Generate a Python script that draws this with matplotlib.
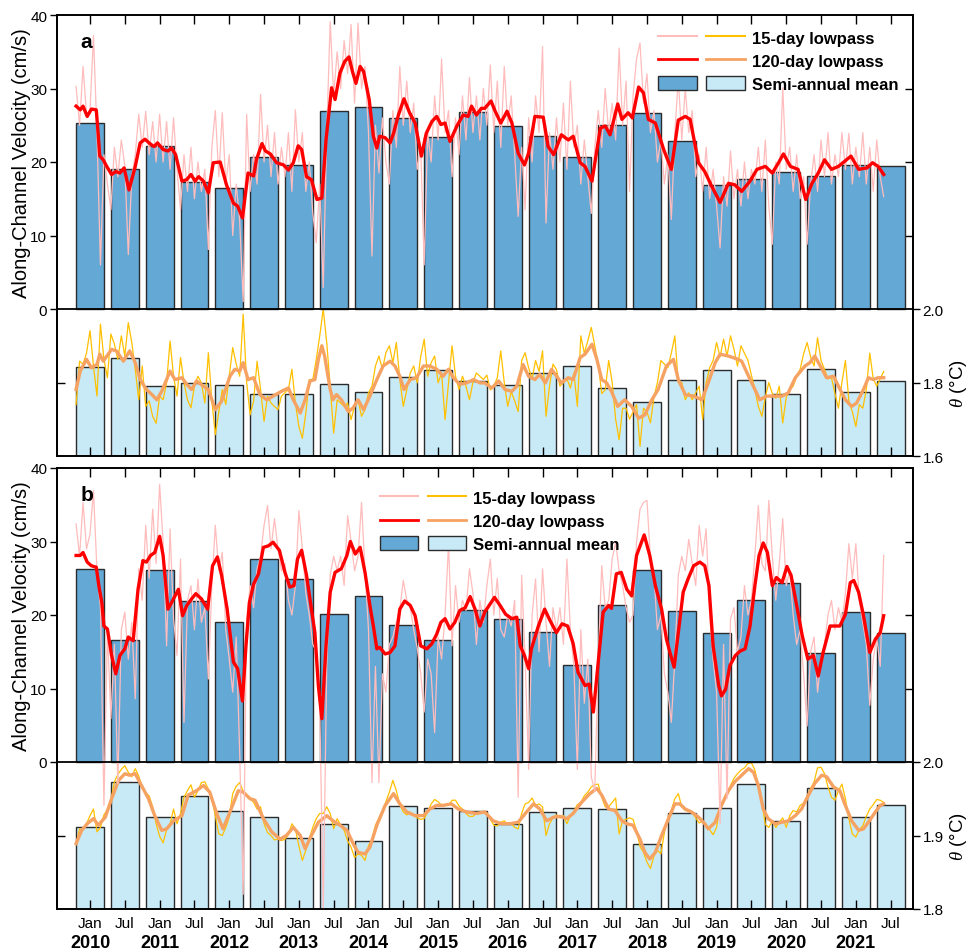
import numpy as np
import matplotlib
matplotlib.use("Agg")
import matplotlib.pyplot as plt
import matplotlib.transforms as mtransforms
from matplotlib.lines import Line2D
from matplotlib.patches import Patch
from matplotlib.legend_handler import HandlerTuple

plt.rcParams['font.family'] = ['Liberation Sans', 'DejaVu Sans']
plt.rcParams['mathtext.fontset'] = 'custom'
plt.rcParams['mathtext.it'] = 'Liberation Serif:italic'
plt.rcParams['mathtext.rm'] = 'Liberation Sans'

# semester centres (Jan / Jul of each year)
semesters = np.arange(2010.0, 2022.0, 0.5)
sem_labels = ['Jan', 'Jul'] * 12
years = list(range(2010, 2022))

# semi-annual means
vel_a_mean = [25.3, 19.0, 22.2, 17.3, 16.4, 20.7, 19.6, 27.0, 27.5, 26.0, 23.4, 26.8,
              24.9, 23.6, 20.7, 25.1, 26.6, 22.8, 16.9, 17.7, 18.7, 18.1, 19.6, 19.5]
temp_a_mean = [1.843, 1.867, 1.790, 1.799, 1.794, 1.768, 1.769, 1.795, 1.773, 1.816, 1.833, 1.804,
               1.794, 1.826, 1.845, 1.784, 1.747, 1.806, 1.834, 1.808, 1.770, 1.837, 1.775, 1.805]
vel_b_mean = [26.3, 16.6, 26.1, 21.9, 19.0, 27.6, 24.9, 20.2, 22.6, 18.6, 16.6, 20.7,
              19.5, 17.7, 13.2, 21.3, 26.1, 20.5, 17.6, 22.1, 24.4, 14.8, 20.4, 17.6]
temp_b_mean = [1.911, 1.973, 1.925, 1.954, 1.934, 1.925, 1.896, 1.915, 1.892, 1.940, 1.937, 1.933,
               1.916, 1.932, 1.937, 1.936, 1.889, 1.930, 1.938, 1.970, 1.920, 1.965, 1.925, 1.941]

# 15-day lowpass series, sampled every 0.05 yr from 2009.80
t15_start, t15_step = 2009.80, 0.05
vel_a_15d = [
    30.3, 25.0, 33.0, 26.5,
    27.0, 37.2, 24.0, 6.0, 21.0, 17.0, 13.5, 22.0, 18.0, 23.0, 19.5, 7.4, 18.0, 21.0, 26.5, 22.0, 26.9, 21.0, 25.5, 20.0,
    26.5, 20.0, 25.5, 19.0, 26.0, 19.0, 13.5, 21.0, 16.0, 22.0, 15.0, 20.0, 16.0, 19.0, 8.1, 22.0, 27.0, 18.0, 26.7, 17.0,
    21.0, 10.0, 17.0, 12.0, 1.0, 26.5, 16.0, 21.0, 17.0, 29.2, 20.0, 25.0, 18.0, 24.0, 17.0, 22.0, 18.0, 24.0, 16.0, 27.1,
    20.0, 24.0, 16.0, 20.0, 13.0, 9.0, 17.0, 2.9, 24.0, 39.1, 29.0, 35.0, 30.0, 36.5, 32.0, 38.7, 28.0, 38.9, 30.0, 33.0,
    24.0, 7.2, 25.0, 18.5, 26.0, 20.0, 17.0, 27.0, 22.0, 33.0, 25.0, 31.0, 24.0, 28.0, 19.0, 22.0, 6.0, 24.0, 20.0, 29.0,
    23.0, 34.0, 24.0, 27.0, 18.0, 26.0, 21.0, 29.0, 23.0, 31.5, 24.0, 29.0, 23.0, 30.0, 25.0, 33.2, 24.0, 31.0, 22.0, 33.0,
    25.0, 29.0, 21.0, 12.6, 22.0, 13.5, 26.0, 20.0, 29.0, 24.0, 35.7, 11.7, 24.0, 19.0, 26.0, 20.0, 28.0, 19.0, 31.0, 22.0,
    25.0, 17.0, 23.0, 18.0, 13.0, 22.0, 27.0, 22.0, 30.0, 24.0, 28.0, 23.0, 35.5, 25.0, 31.0, 16.0, 29.0, 34.0, 36.2, 28.0,
    32.0, 24.0, 27.0, 20.0, 23.0, 17.0, 21.0, 12.2, 24.0, 31.4, 23.0, 30.0, 24.0, 27.0, 18.0, 21.0, 16.0, 22.0, 15.0, 19.0,
    14.0, 8.3, 18.0, 14.0, 21.5, 15.0, 19.0, 14.0, 20.0, 15.0, 19.0, 17.0, 22.0, 16.0, 23.0, 14.0, 8.8, 20.0, 17.0, 30.1,
    19.0, 22.0, 16.0, 21.0, 15.0, 18.0, 8.8, 17.0, 21.0, 16.0, 23.0, 18.0, 24.0, 17.0, 21.0, 18.0, 24.0, 19.0, 23.9, 17.0,
    22.0, 18.0, 24.0, 17.0, 22.0, 16.0, 23.0, 18.0, 15.3,
]
temp_a_15d = [
    1.740, 1.858, 1.850, 1.880,
    1.941, 1.845, 1.763, 1.959, 1.863, 1.813, 1.932, 1.905, 1.863, 1.927, 1.872, 1.963, 1.909, 1.836, 1.753, 1.845, 1.735, 1.750, 1.708, 1.689,
    1.763, 1.753, 1.799, 1.913, 1.817, 1.763, 1.868, 1.800, 1.753, 1.731, 1.790, 1.817, 1.799, 1.744, 1.881, 1.750, 1.658, 1.720, 1.781, 1.740,
    1.817, 1.895, 1.850, 1.817, 1.986, 1.800, 1.712, 1.750, 1.858, 1.781, 1.694, 1.763, 1.744, 1.735, 1.726, 1.763, 1.772, 1.781, 1.836, 1.744,
    1.680, 1.648, 1.717, 1.808, 1.808, 1.863, 1.927, 2.000, 1.909, 1.790, 1.662, 1.753, 1.744, 1.735, 1.744, 1.699, 1.735, 1.753, 1.708, 1.726,
    1.772, 1.790, 1.845, 1.872, 1.836, 1.881, 1.900, 1.854, 1.909, 1.808, 1.735, 1.781, 1.826, 1.845, 1.799, 1.870, 1.918, 1.817, 1.854, 1.872,
    1.799, 1.826, 1.699, 1.800, 1.900, 1.817, 1.781, 1.817, 1.790, 1.753, 1.800, 1.826, 1.817, 1.808, 1.820, 1.780, 1.790, 1.813, 1.886, 1.800,
    1.735, 1.775, 1.750, 1.721, 1.860, 1.881, 1.840, 1.810, 1.860, 1.830, 1.886, 1.708, 1.790, 1.850, 1.835, 1.790, 1.800, 1.810, 1.785, 1.826,
    1.735, 1.927, 1.880, 1.913, 1.950, 1.900, 1.850, 1.770, 1.780, 1.860, 1.800, 1.700, 1.644, 1.730, 1.730, 1.700, 1.720, 1.740, 1.626, 1.730,
    1.720, 1.690, 1.760, 1.800, 1.860, 1.850, 1.840, 1.880, 1.927, 1.800, 1.800, 1.753, 1.772, 1.753, 1.772, 1.790, 1.699, 1.800, 1.840, 1.860,
    1.909, 1.870, 1.918, 1.872, 1.927, 1.890, 1.845, 1.900, 1.880, 1.860, 1.820, 1.780, 1.735, 1.708, 1.760, 1.800, 1.770, 1.757, 1.790, 1.690,
    1.760, 1.781, 1.790, 1.817, 1.836, 1.878, 1.909, 1.870, 1.845, 1.922, 1.860, 1.836, 1.810, 1.813, 1.770, 1.730, 1.800, 1.860, 1.750, 1.720,
    1.680, 1.740, 1.730, 1.780, 1.880, 1.810, 1.790, 1.810, 1.830,
]
vel_b_15d = [
    32.4, 28.0, 35.3, 29.0,
    31.0, 36.9, 26.0, 21.0, -5.9, 18.0, 5.9, 16.0, -3.0, 18.0, 20.4, 14.0, 19.0, 8.6, 26.3, 22.0, 32.2, 25.0, 34.4, 27.0,
    37.8, 29.9, 15.8, 31.7, 19.5, 14.5, 27.6, 5.4, 22.0, 24.0, 18.0, 24.9, 19.0, 21.0, 11.3, 24.0, 32.2, 26.0, 28.5, 18.0,
    14.0, 9.5, 17.0, 1.3, -18.0, 19.5, 24.0, 21.0, 26.3, 28.0, 32.2, 34.9, 29.0, 33.1, 29.0, 26.0, 27.0, 22.0, 20.0, 24.0,
    34.2, 29.0, 23.0, 20.0, 16.0, 15.0, 7.7, -20.0, 13.1, 25.4, 28.0, 26.0, 28.0, 24.0, 33.5, 30.0, 26.0, 28.0, 35.3, 26.0,
    18.0, -2.8, 13.0, -2.8, 12.0, 9.5, 16.0, 17.0, 19.0, 20.8, 24.7, 22.0, 21.0, 18.0, 15.5, 12.0, 6.8, 14.0, 12.0, 4.0,
    17.0, 14.0, 20.0, 29.7, 15.8, 24.0, 19.0, 22.0, 20.6, 26.3, 23.0, 16.0, 22.0, 19.0, 24.0, 27.6, 20.0, 25.0, 18.0, 17.0,
    20.0, 18.5, 22.0, -4.8, 25.4, 14.0, -1.0, 20.0, 24.9, 15.0, 26.3, 19.0, 13.0, 21.0, 18.0, 21.0, 16.0, 27.6, 18.0, 13.0,
    -1.0, 18.0, 8.0, 14.0, -2.0, -4.0, 14.0, 26.7, 21.0, 22.0, 27.6, 29.9, 26.0, 24.0, 21.0, 19.0, 20.0, 29.9, 34.4, 35.3,
    35.6, 27.6, 25.4, 18.0, 20.0, 12.0, 9.5, 5.4, 14.0, 25.4, 28.0, 26.0, 30.3, 27.0, 24.0, 32.2, 28.0, 31.7, 20.0, 14.0,
    9.5, -8.4, 16.0, -5.0, 19.5, 21.0, 15.0, 17.0, 24.0, 20.0, 22.0, 28.1, 34.9, 27.0, 26.0, 35.6, 28.0, 22.0, 27.0, 33.1,
    24.0, 26.0, 20.0, 16.0, 18.0, 12.0, 4.9, 15.0, 17.0, 9.5, 14.0, 16.0, 20.0, 22.0, 18.0, 21.0, 19.0, 23.0, 29.7, 25.0,
    29.7, 22.0, 19.0, 16.0, 7.7, 14.0, 17.0, 13.0, 28.1,
]
temp_b_15d = [
    1.889, 1.909, 1.908, 1.916,
    1.927, 1.936, 1.905, 1.911, 1.928, 1.935, 1.948, 1.973, 1.983, 1.990, 1.995, 1.986, 1.980, 1.991, 1.981, 1.964, 1.958, 1.954, 1.939, 1.916,
    1.899, 1.890, 1.908, 1.916, 1.936, 1.916, 1.930, 1.952, 1.961, 1.969, 1.952, 1.961, 1.972, 1.973, 1.963, 1.950, 1.927, 1.902, 1.900, 1.911,
    1.925, 1.957, 1.967, 1.972, 1.960, 1.955, 1.950, 1.945, 1.936, 1.939, 1.916, 1.904, 1.900, 1.894, 1.895, 1.893, 1.895, 1.901, 1.916, 1.909,
    1.886, 1.866, 1.880, 1.896, 1.911, 1.923, 1.930, 1.930, 1.939, 1.930, 1.909, 1.923, 1.914, 1.907, 1.893, 1.884, 1.870, 1.875, 1.873, 1.866,
    1.886, 1.895, 1.914, 1.924, 1.933, 1.946, 1.959, 1.975, 1.961, 1.942, 1.932, 1.928, 1.932, 1.927, 1.924, 1.922, 1.923, 1.932, 1.943, 1.949,
    1.946, 1.941, 1.941, 1.941, 1.948, 1.948, 1.940, 1.936, 1.930, 1.926, 1.926, 1.930, 1.931, 1.932, 1.931, 1.922, 1.914, 1.913, 1.918, 1.920,
    1.915, 1.916, 1.911, 1.909, 1.930, 1.943, 1.945, 1.951, 1.941, 1.943, 1.939, 1.900, 1.916, 1.924, 1.928, 1.924, 1.927, 1.916, 1.927, 1.933,
    1.942, 1.945, 1.954, 1.959, 1.966, 1.969, 1.970, 1.952, 1.939, 1.939, 1.945, 1.951, 1.902, 1.920, 1.922, 1.924, 1.922, 1.907, 1.885, 1.877,
    1.864, 1.855, 1.872, 1.880, 1.875, 1.904, 1.925, 1.934, 1.950, 1.957, 1.939, 1.934, 1.933, 1.931, 1.924, 1.917, 1.920, 1.914, 1.908, 1.901,
    1.911, 1.941, 1.949, 1.955, 1.968, 1.978, 1.984, 1.989, 1.992, 1.998, 1.999, 1.989, 1.968, 1.945, 1.915, 1.911, 1.920, 1.911, 1.918, 1.924,
    1.911, 1.927, 1.934, 1.932, 1.941, 1.944, 1.954, 1.964, 1.973, 1.992, 1.993, 1.984, 1.966, 1.952, 1.948, 1.961, 1.970, 1.950, 1.923, 1.902,
    1.898, 1.908, 1.913, 1.926, 1.936, 1.942, 1.949, 1.948, 1.945,
]

# 120-day lowpass series, (decimal year, value)
vel_a_120d = [
    (2009.80, 27.6), (2009.86, 27.1), (2009.90, 27.6), (2009.96, 26.2), (2010.02, 27.2), (2010.09, 27.1),
    (2010.12, 23.5), (2010.14, 20.8), (2010.19, 20.3), (2010.24, 19.4), (2010.31, 18.3), (2010.37, 18.7),
    (2010.43, 18.5), (2010.49, 19.2), (2010.56, 16.2), (2010.65, 19.4), (2010.72, 22.6), (2010.79, 23.1),
    (2010.86, 22.5), (2010.92, 22.1), (2010.97, 22.6), (2011.05, 21.7), (2011.12, 21.5), (2011.17, 21.9),
    (2011.23, 21.0), (2011.32, 17.4), (2011.39, 17.6), (2011.45, 18.3), (2011.51, 17.4), (2011.56, 18.0),
    (2011.63, 17.4), (2011.70, 15.8), (2011.77, 19.9), (2011.87, 20.0), (2011.96, 16.9), (2012.06, 14.4),
    (2012.12, 14.0), (2012.19, 12.4), (2012.27, 18.5), (2012.35, 18.1), (2012.39, 20.3), (2012.47, 22.5),
    (2012.52, 21.5), (2012.59, 21.1), (2012.68, 19.9), (2012.78, 19.6), (2012.85, 18.9), (2012.92, 19.9),
    (2012.99, 22.2), (2013.04, 21.7), (2013.11, 18.0), (2013.18, 17.6), (2013.26, 14.9), (2013.33, 15.1),
    (2013.39, 23.0), (2013.47, 30.1), (2013.52, 28.5), (2013.59, 32.1), (2013.66, 33.7), (2013.72, 34.3),
    (2013.77, 32.3), (2013.82, 30.7), (2013.88, 33.0), (2013.93, 32.3), (2014.01, 28.5), (2014.07, 23.5),
    (2014.12, 21.9), (2014.16, 23.5), (2014.24, 23.3), (2014.31, 22.6), (2014.36, 23.9), (2014.43, 26.4),
    (2014.51, 28.6), (2014.59, 26.7), (2014.67, 25.3), (2014.76, 20.8), (2014.83, 23.9), (2014.91, 25.5),
    (2014.98, 26.2), (2015.04, 25.1), (2015.10, 25.3), (2015.17, 22.8), (2015.27, 24.9), (2015.36, 26.4),
    (2015.43, 26.2), (2015.48, 27.6), (2015.55, 26.4), (2015.62, 27.3), (2015.67, 27.3), (2015.76, 28.3),
    (2015.82, 26.9), (2015.90, 25.3), (2015.99, 26.9), (2016.06, 25.3), (2016.15, 21.2), (2016.24, 19.6),
    (2016.30, 21.2), (2016.39, 26.2), (2016.51, 26.1), (2016.58, 22.1), (2016.66, 21.0), (2016.77, 23.7),
    (2016.87, 23.0), (2016.94, 23.5), (2017.04, 19.9), (2017.11, 19.4), (2017.21, 17.4), (2017.33, 24.6),
    (2017.40, 24.9), (2017.47, 23.7), (2017.58, 27.9), (2017.64, 25.8), (2017.73, 26.7), (2017.79, 26.0),
    (2017.88, 30.2), (2017.95, 29.4), (2018.02, 25.8), (2018.12, 25.3), (2018.24, 21.7), (2018.35, 19.0),
    (2018.45, 25.7), (2018.55, 26.2), (2018.62, 25.8), (2018.74, 19.9), (2018.83, 18.7), (2018.93, 16.7),
    (2019.05, 14.5), (2019.17, 17.1), (2019.26, 16.9), (2019.36, 16.0), (2019.48, 17.4), (2019.58, 19.0),
    (2019.70, 19.4), (2019.80, 18.5), (2019.89, 19.9), (2019.96, 21.1), (2020.06, 19.4), (2020.17, 19.0),
    (2020.28, 14.9), (2020.37, 17.1), (2020.46, 18.5), (2020.55, 20.3), (2020.65, 19.0), (2020.75, 19.4),
    (2020.84, 20.1), (2020.93, 20.8), (2021.04, 19.0), (2021.16, 19.2), (2021.24, 19.9), (2021.32, 19.4),
    (2021.40, 18.3),
]
temp_a_120d = [
    (2009.80, 1.781), (2009.86, 1.831), (2009.95, 1.863), (2010.02, 1.840), (2010.10, 1.849), (2010.14, 1.877),
    (2010.19, 1.858), (2010.31, 1.890), (2010.38, 1.886), (2010.48, 1.858), (2010.57, 1.886), (2010.65, 1.854),
    (2010.72, 1.808), (2010.81, 1.781), (2010.89, 1.767), (2010.96, 1.753), (2011.03, 1.776), (2011.15, 1.831),
    (2011.22, 1.808), (2011.32, 1.813), (2011.39, 1.795), (2011.46, 1.781), (2011.53, 1.804), (2011.63, 1.790),
    (2011.70, 1.781), (2011.80, 1.726), (2011.89, 1.749), (2012.01, 1.817), (2012.08, 1.836), (2012.15, 1.831),
    (2012.20, 1.854), (2012.27, 1.808), (2012.35, 1.813), (2012.44, 1.767), (2012.54, 1.753), (2012.63, 1.763),
    (2012.75, 1.776), (2012.85, 1.785), (2012.92, 1.753), (2013.02, 1.717), (2013.09, 1.753), (2013.16, 1.804),
    (2013.23, 1.808), (2013.28, 1.863), (2013.33, 1.900), (2013.37, 1.872), (2013.45, 1.781), (2013.49, 1.753),
    (2013.54, 1.767), (2013.61, 1.753), (2013.71, 1.721), (2013.78, 1.731), (2013.85, 1.753), (2013.93, 1.726),
    (2014.02, 1.763), (2014.12, 1.808), (2014.21, 1.845), (2014.31, 1.858), (2014.38, 1.845), (2014.45, 1.817),
    (2014.51, 1.781), (2014.60, 1.808), (2014.69, 1.813), (2014.79, 1.845), (2014.88, 1.845), (2014.98, 1.836),
    (2015.07, 1.817), (2015.15, 1.836), (2015.22, 1.813), (2015.31, 1.795), (2015.41, 1.799), (2015.51, 1.808),
    (2015.60, 1.799), (2015.67, 1.799), (2015.77, 1.785), (2015.87, 1.804), (2015.96, 1.781), (2016.06, 1.776),
    (2016.13, 1.790), (2016.22, 1.849), (2016.30, 1.817), (2016.39, 1.808), (2016.46, 1.822), (2016.54, 1.799),
    (2016.63, 1.836), (2016.77, 1.799), (2016.87, 1.813), (2016.94, 1.808), (2017.04, 1.868), (2017.11, 1.877),
    (2017.21, 1.904), (2017.28, 1.863), (2017.35, 1.808), (2017.42, 1.799), (2017.49, 1.776), (2017.58, 1.735),
    (2017.68, 1.753), (2017.78, 1.735), (2017.88, 1.703), (2017.97, 1.712), (2018.07, 1.753), (2018.16, 1.781),
    (2018.28, 1.845), (2018.38, 1.863), (2018.45, 1.808), (2018.55, 1.767), (2018.67, 1.763), (2018.79, 1.753),
    (2018.88, 1.799), (2018.98, 1.854), (2019.05, 1.877), (2019.17, 1.872), (2019.31, 1.863), (2019.36, 1.858),
    (2019.46, 1.817), (2019.55, 1.781), (2019.62, 1.753), (2019.72, 1.763), (2019.84, 1.763), (2019.94, 1.763),
    (2020.03, 1.772), (2020.13, 1.813), (2020.27, 1.845), (2020.34, 1.854), (2020.41, 1.872), (2020.49, 1.845),
    (2020.58, 1.813), (2020.68, 1.817), (2020.75, 1.790), (2020.85, 1.753), (2020.94, 1.735), (2021.01, 1.744),
    (2021.11, 1.781), (2021.18, 1.813), (2021.25, 1.808), (2021.32, 1.813), (2021.40, 1.813),
]
vel_b_120d = [
    (2009.80, 28.1), (2009.86, 28.1), (2009.90, 28.5), (2009.96, 27.2), (2010.02, 26.7), (2010.09, 26.5),
    (2010.13, 23.8), (2010.17, 21.7), (2010.20, 18.5), (2010.25, 18.1), (2010.31, 14.5), (2010.37, 12.0),
    (2010.43, 14.5), (2010.50, 15.4), (2010.55, 17.0), (2010.62, 16.5), (2010.69, 23.5), (2010.76, 27.4),
    (2010.81, 27.2), (2010.87, 28.1), (2010.93, 28.5), (2011.00, 30.7), (2011.05, 28.1), (2011.12, 20.8),
    (2011.20, 22.2), (2011.27, 23.5), (2011.33, 19.9), (2011.39, 21.3), (2011.46, 22.2), (2011.52, 22.9),
    (2011.60, 22.2), (2011.69, 20.8), (2011.76, 26.7), (2011.83, 27.9), (2011.89, 25.4), (2011.97, 20.8),
    (2012.06, 13.6), (2012.12, 12.7), (2012.19, 8.3), (2012.24, 15.8), (2012.29, 21.7), (2012.35, 24.2),
    (2012.42, 25.6), (2012.49, 29.2), (2012.56, 29.4), (2012.63, 29.9), (2012.72, 28.8), (2012.80, 25.8),
    (2012.87, 23.8), (2012.93, 24.0), (2012.98, 27.6), (2013.04, 28.8), (2013.11, 25.4), (2013.18, 20.8),
    (2013.23, 17.6), (2013.28, 10.4), (2013.33, 5.9), (2013.39, 15.8), (2013.45, 23.1), (2013.52, 25.8),
    (2013.61, 26.3), (2013.69, 28.1), (2013.74, 30.0), (2013.81, 28.3), (2013.88, 29.2), (2013.95, 25.8),
    (2014.02, 21.3), (2014.07, 18.5), (2014.12, 15.4), (2014.16, 15.6), (2014.24, 14.7), (2014.31, 14.9),
    (2014.38, 15.8), (2014.45, 20.8), (2014.52, 21.9), (2014.60, 21.3), (2014.67, 19.9), (2014.75, 15.8),
    (2014.84, 15.4), (2014.91, 16.1), (2014.98, 17.4), (2015.04, 19.0), (2015.10, 19.5), (2015.17, 18.1),
    (2015.24, 19.0), (2015.31, 20.6), (2015.39, 21.0), (2015.46, 22.5), (2015.53, 20.8), (2015.60, 18.5),
    (2015.67, 20.4), (2015.81, 22.4), (2015.89, 21.3), (2015.97, 20.1), (2016.06, 19.5), (2016.13, 19.7),
    (2016.18, 15.8), (2016.24, 14.5), (2016.30, 12.7), (2016.34, 15.4), (2016.44, 18.5), (2016.53, 20.8),
    (2016.61, 19.2), (2016.70, 17.6), (2016.78, 18.8), (2016.86, 18.5), (2016.94, 16.1), (2017.01, 12.2),
    (2017.11, 10.4), (2017.17, 10.6), (2017.23, 6.8), (2017.30, 13.6), (2017.37, 20.4), (2017.45, 21.3),
    (2017.49, 20.9), (2017.56, 25.6), (2017.63, 25.8), (2017.71, 23.5), (2017.78, 22.6), (2017.85, 28.1),
    (2017.96, 30.9), (2018.04, 28.1), (2018.12, 24.0), (2018.21, 20.8), (2018.28, 16.7), (2018.33, 14.9),
    (2018.39, 12.9), (2018.45, 17.6), (2018.52, 23.1), (2018.59, 24.9), (2018.67, 26.7), (2018.76, 27.2),
    (2018.83, 26.7), (2018.89, 24.0), (2018.95, 15.8), (2019.03, 10.4), (2019.07, 9.0), (2019.13, 9.9),
    (2019.19, 13.1), (2019.27, 14.5), (2019.34, 15.1), (2019.41, 15.4), (2019.48, 18.5), (2019.55, 24.0),
    (2019.61, 28.1), (2019.67, 29.8), (2019.73, 28.5), (2019.80, 24.0), (2019.86, 25.1), (2019.94, 24.4),
    (2020.01, 26.6), (2020.07, 25.4), (2020.15, 21.3), (2020.23, 17.2), (2020.31, 14.0), (2020.39, 14.5),
    (2020.46, 11.7), (2020.53, 14.9), (2020.63, 18.5), (2020.70, 18.5), (2020.77, 18.5), (2020.85, 20.1),
    (2020.92, 24.4), (2020.97, 24.7), (2021.04, 23.1), (2021.11, 19.9), (2021.20, 14.9), (2021.28, 16.7),
    (2021.35, 17.6), (2021.40, 19.9),
]
temp_b_120d = [
    (2009.80, 1.889), (2009.88, 1.907), (2009.96, 1.916), (2010.05, 1.923), (2010.12, 1.914), (2010.22, 1.925),
    (2010.31, 1.950), (2010.41, 1.975), (2010.50, 1.984), (2010.57, 1.982), (2010.65, 1.984), (2010.74, 1.968),
    (2010.84, 1.950), (2010.93, 1.927), (2011.03, 1.907), (2011.10, 1.909), (2011.20, 1.920), (2011.32, 1.927),
    (2011.41, 1.955), (2011.53, 1.961), (2011.63, 1.968), (2011.72, 1.959), (2011.82, 1.930), (2011.91, 1.909),
    (2012.01, 1.932), (2012.13, 1.961), (2012.20, 1.959), (2012.30, 1.950), (2012.37, 1.948), (2012.49, 1.923),
    (2012.61, 1.905), (2012.73, 1.895), (2012.82, 1.900), (2012.92, 1.911), (2013.02, 1.900), (2013.09, 1.882),
    (2013.18, 1.900), (2013.28, 1.918), (2013.40, 1.927), (2013.49, 1.920), (2013.59, 1.914), (2013.69, 1.907),
    (2013.78, 1.889), (2013.85, 1.877), (2013.95, 1.875), (2014.02, 1.884), (2014.12, 1.914), (2014.24, 1.941),
    (2014.36, 1.957), (2014.45, 1.943), (2014.55, 1.932), (2014.67, 1.927), (2014.79, 1.927), (2014.88, 1.936),
    (2014.98, 1.941), (2015.07, 1.941), (2015.19, 1.943), (2015.29, 1.936), (2015.41, 1.932), (2015.55, 1.930),
    (2015.67, 1.932), (2015.79, 1.920), (2015.91, 1.916), (2016.03, 1.916), (2016.15, 1.918), (2016.27, 1.932),
    (2016.37, 1.943), (2016.46, 1.936), (2016.56, 1.920), (2016.66, 1.925), (2016.75, 1.926), (2016.85, 1.923),
    (2016.94, 1.930), (2017.06, 1.945), (2017.18, 1.957), (2017.28, 1.964), (2017.35, 1.955), (2017.45, 1.936),
    (2017.54, 1.934), (2017.64, 1.920), (2017.71, 1.916), (2017.80, 1.914), (2017.90, 1.895), (2017.97, 1.877),
    (2018.04, 1.868), (2018.12, 1.877), (2018.21, 1.900), (2018.31, 1.923), (2018.40, 1.943), (2018.47, 1.943),
    (2018.55, 1.936), (2018.64, 1.932), (2018.74, 1.925), (2018.83, 1.916), (2018.88, 1.909), (2018.98, 1.918),
    (2019.07, 1.941), (2019.17, 1.961), (2019.26, 1.973), (2019.36, 1.982), (2019.46, 1.991), (2019.53, 1.986),
    (2019.60, 1.968), (2019.67, 1.936), (2019.74, 1.923), (2019.84, 1.916), (2019.94, 1.918), (2020.03, 1.920),
    (2020.13, 1.927), (2020.22, 1.936), (2020.32, 1.955), (2020.41, 1.971), (2020.51, 1.982), (2020.58, 1.980),
    (2020.68, 1.966), (2020.77, 1.961), (2020.84, 1.943), (2020.94, 1.920), (2021.04, 1.907), (2021.11, 1.909),
    (2021.18, 1.918), (2021.28, 1.932), (2021.35, 1.941), (2021.40, 1.943),
]

# colours
c_pink = '#ffbcbc'
c_red = '#ff0000'
c_gold = '#ffc000'
c_orange = '#f6a262'
c_dark = '#64a8d6'
c_light = '#c8eaf7'
c_edge = '#2b2b2b'

fig = plt.figure(figsize=(9.7, 9.53), dpi=100)
ax_w, ax_h = 856 / 970, 441 / 953
ax_left = 57 / 970


def draw_panel(bottom, vel_mean, temp_mean, vel15, temp15, vel120, temp120, t_lo, t_ticks, letter,
               leg_anchor, show_xlabels):
    ax_t = fig.add_axes([ax_left, bottom, ax_w, ax_h])
    ax_v = ax_t.twinx()

    # temperature (lower strip, right axis)
    ax_t.bar(semesters, np.array(temp_mean) - t_lo, bottom=t_lo, width=0.4,
             color=c_light, edgecolor=c_edge, linewidth=1.0, zorder=1)
    t15 = t15_start + t15_step * np.arange(len(temp15))
    ax_t.plot(t15, temp15, color=c_gold, lw=0.9, zorder=2)
    tt, tv = zip(*temp120)
    ax_t.plot(tt, tv, color=c_orange, lw=2.4, zorder=3)
    ax_t.set_ylim(t_lo, 2.0 + (2.0 - t_lo) * 2)

    # velocity (upper part, left axis)
    ax_v.bar(semesters, vel_mean, width=0.4, color=c_dark, edgecolor=c_edge, linewidth=1.0, zorder=1)
    v15 = t15_start + t15_step * np.arange(len(vel15))
    ax_v.plot(v15, vel15, color=c_pink, lw=0.9, zorder=2)
    vt, vv = zip(*vel120)
    ax_v.plot(vt, vv, color=c_red, lw=2.4, zorder=3)
    ax_v.axhline(0, color='k', lw=1.3, zorder=4)
    ax_v.set_ylim(-20, 40)
    ax_t.set_xlim(2009.526, 2021.821)

    # y axes: velocity on left, temperature on right
    ax_v.yaxis.tick_left()
    ax_v.yaxis.set_label_position('left')
    ax_t.yaxis.tick_right()
    ax_v.set_yticks([0, 10, 20, 30, 40])
    ax_v.tick_params(axis='y', direction='out', length=5, width=1, labelsize=11, pad=2)
    ax_t.set_yticks(t_ticks)
    ax_t.set_yticklabels([f'{v:.1f}' for v in t_ticks])
    ax_t.tick_params(axis='y', direction='out', length=5, width=1, labelsize=11, pad=2)

    sec_v = ax_v.secondary_yaxis('right')
    sec_v.set_yticks([10, 20, 30])
    sec_v.tick_params(direction='in', length=6, width=1, labelright=False)
    sec_t = ax_t.secondary_yaxis('left')
    sec_t.set_yticks([t_ticks[1]])
    sec_t.tick_params(direction='in', length=6, width=1, labelleft=False)

    ax_t.set_xticks(semesters)
    ax_t.set_xticklabels(sem_labels)
    ax_t.tick_params(axis='x', direction='in', top=True, bottom=True, length=6.5, width=1,
                     labelsize=11, pad=5, labelbottom=show_xlabels)

    for a in (ax_t, ax_v, sec_v, sec_t):
        for sp in a.spines.values():
            sp.set_linewidth(1.2)

    ax_v.text(-0.041, 0.667, 'Along-Channel Velocity (cm/s)', transform=ax_v.transAxes,
              rotation=90, ha='center', va='center', fontsize=14.5)
    ax_v.text(1.053, 0.167, r'$\theta$ (°C)', transform=ax_v.transAxes,
              rotation=90, ha='center', va='center', fontsize=13.5)
    ax_v.text(0.027, 0.941, letter, transform=ax_v.transAxes, ha='left', va='center',
              fontsize=15, fontweight='bold')

    h1 = (Line2D([], [], color=c_pink, lw=1.5), Line2D([], [], color=c_gold, lw=1.5))
    h2 = (Line2D([], [], color=c_red, lw=2.0), Line2D([], [], color=c_orange, lw=2.0))
    h3 = (Patch(facecolor=c_dark, edgecolor=c_edge, lw=1), Patch(facecolor=c_light, edgecolor=c_edge, lw=1))
    ax_v.legend([h1, h2, h3], ['15-day lowpass', '120-day lowpass', 'Semi-annual mean'],
                handler_map={tuple: HandlerTuple(ndivide=None, pad=0.55)},
                loc='upper left', bbox_to_anchor=leg_anchor, frameon=False,
                borderpad=0, borderaxespad=0, handlelength=5.2, handleheight=0.9,
                handletextpad=0.42, labelspacing=0.45,
                prop={'weight': 'bold', 'size': 12})

    if show_xlabels:
        trans = mtransforms.blended_transform_factory(ax_t.transData, ax_t.transAxes)
        for y in years:
            ax_t.text(y, -0.075, str(y), transform=trans, ha='center', va='center',
                      fontsize=13, fontweight='bold')
    return ax_t, ax_v


draw_panel(1 - 457 / 953, vel_a_mean, temp_a_mean, vel_a_15d, temp_a_15d, vel_a_120d, temp_a_120d,
           1.6, [1.6, 1.8, 2.0], 'a', (0.702, 0.966), False)
draw_panel(1 - 910 / 953, vel_b_mean, temp_b_mean, vel_b_15d, temp_b_15d, vel_b_120d, temp_b_120d,
           1.8, [1.8, 1.9, 2.0], 'b', (0.377, 0.950), True)

fig.savefig('out.png', dpi=100)
